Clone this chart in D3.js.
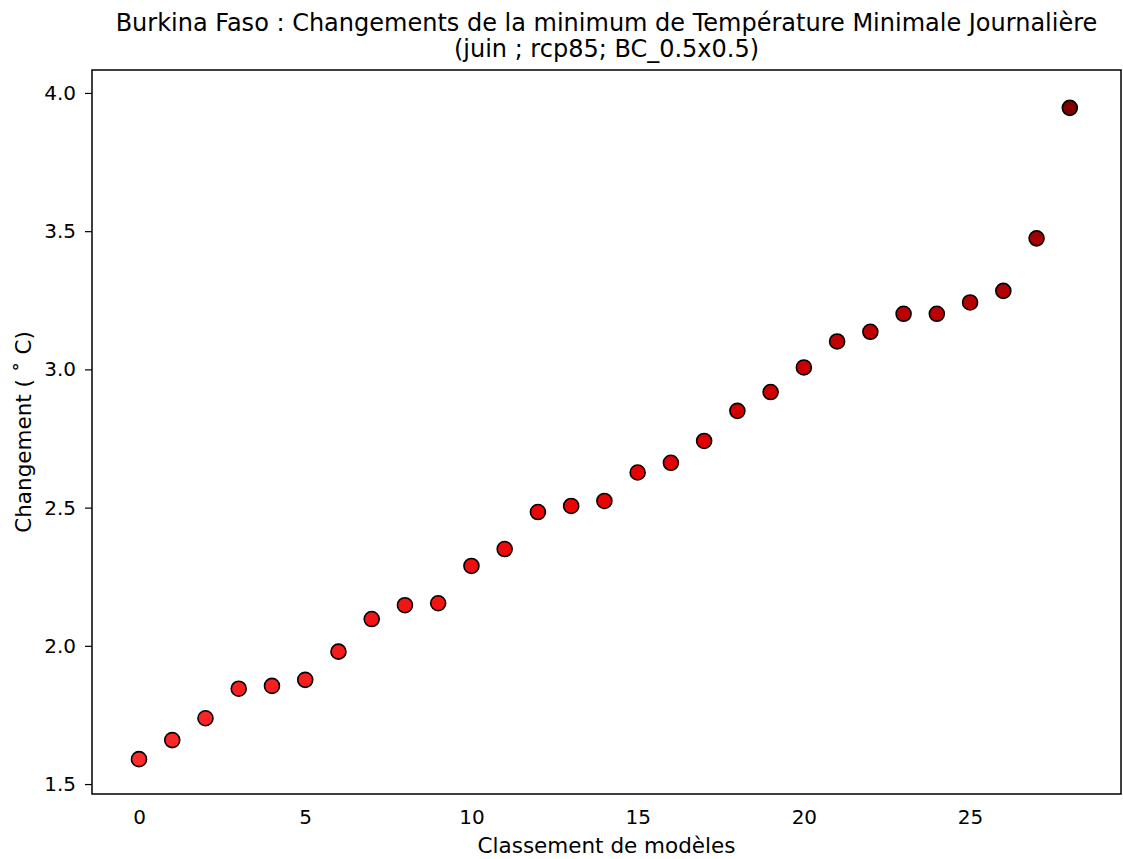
<!DOCTYPE html>
<html>
<head>
<meta charset="utf-8">
<script src="https://cdn.jsdelivr.net/npm/d3@7"></script>
<style>
  body { margin: 0; background: #fff; }
  text { font-family: "DejaVu Sans", sans-serif; fill: #000; }
</style>
</head>
<body>
<div id="chart"></div>
<script>
// model ranks and their change values
var ranks = [0, 1, 2, 3, 4, 5, 6, 7, 8, 9, 10, 11, 12, 13, 14, 15, 16, 17, 18, 19, 20, 21, 22, 23, 24, 25, 26, 27, 28]
var changes = [1.590, 1.659, 1.738, 1.845, 1.855, 1.877, 1.979, 2.097, 2.147, 2.154, 2.289, 2.350, 2.484, 2.506,
  2.524, 2.627, 2.662, 2.741, 2.850, 2.918, 3.007, 3.101, 3.136, 3.201, 3.201, 3.242, 3.284, 3.474, 3.946]
var xTicks = [0, 5, 10, 15, 20, 25]
var yTicks = [1.5, 2.0, 2.5, 3.0, 3.5, 4.0]

var title1 = "Burkina Faso : Changements de la minimum de Température Minimale Journalière"
var title2 = "(juin ; rcp85; BC_0.5x0.5)"

var W = 1123, H = 859
var margin = { left: 92, right: 2, top: 70, bottom: 65 }

var svg = d3.select("#chart").append("svg")
    .attr("width", W)
    .attr("height", H)

var x = d3.scaleLinear()
    .domain([-1.414, 29.54])
    .range([margin.left, W - margin.right])

var y = d3.scaleLinear()
    .domain([1.464, 4.083])
    .range([H - margin.bottom, margin.top])

var color = d3.scaleLinear()
    .domain([d3.min(changes), 2.6, d3.max(changes)])
    .range(["#ff2a2a", "#e80000", "#800000"])

// x axis: labels only, no tick marks
var xAxis = svg.append("g")
    .attr("transform", "translate(0," + (H - margin.bottom) + ")")
    .call(d3.axisBottom(x).tickValues(xTicks).tickSize(0).tickPadding(16).tickFormat(d3.format("d")))
xAxis.select(".domain").remove()
xAxis.selectAll("text").attr("font-size", "20px")

var yAxis = svg.append("g")
    .attr("transform", "translate(" + margin.left + ",0)")
    .call(d3.axisLeft(y).tickValues(yTicks).tickSize(7).tickPadding(9).tickFormat(d3.format(".1f")))
yAxis.select(".domain").remove()
yAxis.selectAll("line").attr("stroke", "#000").attr("stroke-width", 1.2)
yAxis.selectAll("text").attr("font-size", "20px")

// frame
svg.append("rect")
    .attr("x", margin.left)
    .attr("y", margin.top)
    .attr("width", W - margin.left - margin.right)
    .attr("height", H - margin.top - margin.bottom)
    .attr("fill", "none")
    .attr("stroke", "#000")
    .attr("stroke-width", 1.5)

svg.selectAll(".pt")
    .data(ranks)
    .enter()
    .append("circle")
    .attr("class", "pt")
    .attr("cx", d => x(d))
    .attr("cy", (d, i) => y(changes[i]))
    .attr("r", 7.5)
    .attr("fill", (d, i) => color(changes[i]))
    .attr("stroke", "#000")
    .attr("stroke-width", 1.6)

// titles
var cx = (margin.left + W - margin.right) / 2
svg.append("text")
    .attr("x", cx)
    .attr("y", 31)
    .attr("text-anchor", "middle")
    .attr("font-size", "24px")
    .text(title1)

svg.append("text")
    .attr("x", cx)
    .attr("y", 57)
    .attr("text-anchor", "middle")
    .attr("font-size", "24px")
    .text(title2)

svg.append("text")
    .attr("x", cx)
    .attr("y", 853)
    .attr("text-anchor", "middle")
    .attr("font-size", "21.5px")
    .text("Classement de modèles")

svg.append("text")
    .attr("transform", "translate(31," + ((margin.top + H - margin.bottom) / 2) + ") rotate(-90)")
    .attr("text-anchor", "middle")
    .attr("font-size", "21.5px")
    .text("Changement ( \u02DA C)")
</script>
</body>
</html>
